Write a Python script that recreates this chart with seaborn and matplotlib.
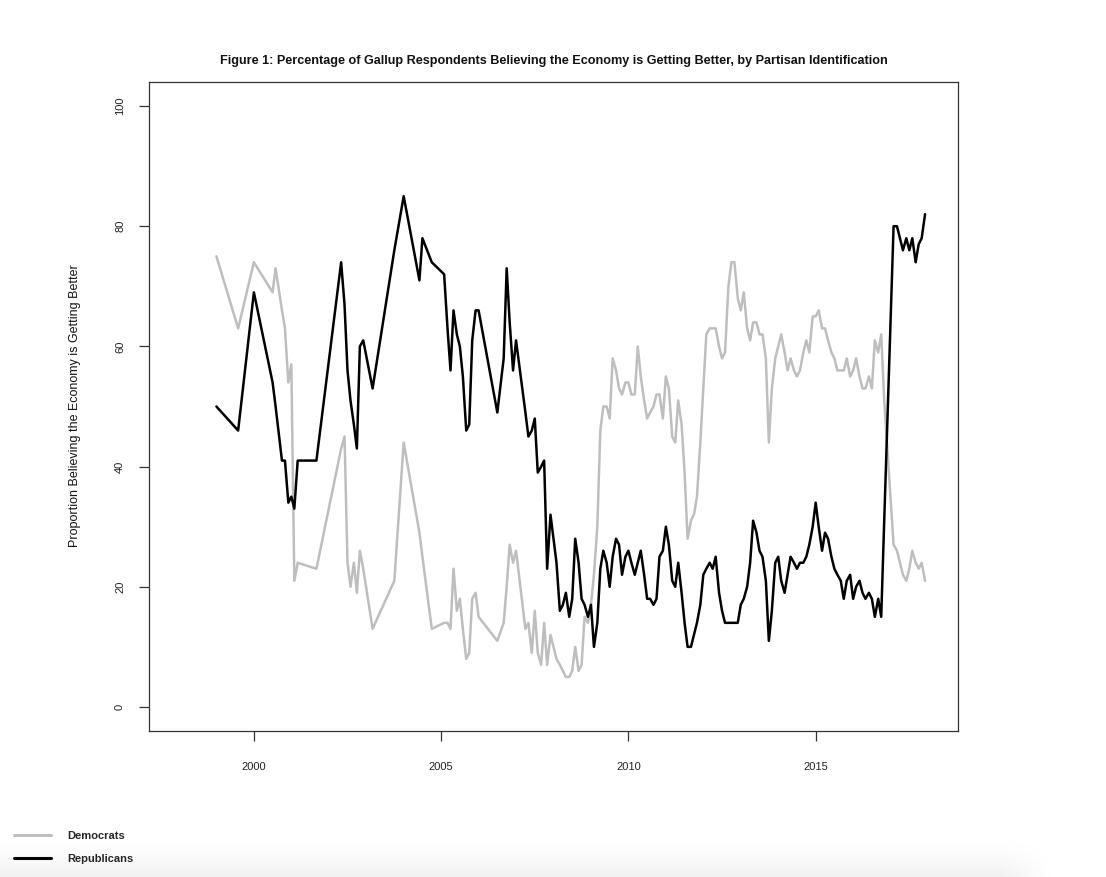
import numpy as np
import pandas as pd
import matplotlib
matplotlib.use("Agg")
import matplotlib.pyplot as plt
from matplotlib.lines import Line2D
import seaborn as sns

# ---------------- data ----------------
dates = [
    1999.0, 1999.58, 2000.0, 2000.5, 2000.58, 2000.75, 2000.83, 2000.92,
    2001.0, 2001.08, 2001.17, 2001.67, 2002.33, 2002.42, 2002.5, 2002.58,
    2002.67, 2002.75, 2002.83, 2002.92, 2003.17, 2003.75, 2004.0, 2004.42,
    2004.5, 2004.75, 2005.08, 2005.17, 2005.25, 2005.33, 2005.42, 2005.5,
    2005.58, 2005.67, 2005.75, 2005.83, 2005.92, 2006.0, 2006.5, 2006.67,
    2006.75, 2006.83, 2006.92, 2007.0, 2007.25, 2007.33, 2007.42, 2007.5,
    2007.58, 2007.67, 2007.75, 2007.83, 2007.92, 2008.08, 2008.17, 2008.25,
    2008.33, 2008.42, 2008.5, 2008.58, 2008.67, 2008.75, 2008.83, 2008.92,
    2009.0, 2009.08, 2009.17, 2009.25, 2009.33, 2009.42, 2009.5, 2009.58,
    2009.67, 2009.75, 2009.83, 2009.92, 2010.0, 2010.08, 2010.17, 2010.25,
    2010.33, 2010.42, 2010.5, 2010.58, 2010.67, 2010.75, 2010.83, 2010.92,
    2011.0, 2011.08, 2011.17, 2011.25, 2011.33, 2011.42, 2011.5, 2011.58,
    2011.67, 2011.75, 2011.83, 2011.92, 2012.0, 2012.08, 2012.17, 2012.25,
    2012.33, 2012.42, 2012.5, 2012.58, 2012.67, 2012.75, 2012.83, 2012.92,
    2013.0, 2013.08, 2013.17, 2013.25, 2013.33, 2013.42, 2013.5, 2013.58,
    2013.67, 2013.75, 2013.83, 2013.92, 2014.0, 2014.08, 2014.17, 2014.25,
    2014.33, 2014.42, 2014.5, 2014.58, 2014.67, 2014.75, 2014.83, 2014.92,
    2015.0, 2015.08, 2015.17, 2015.25, 2015.33, 2015.42, 2015.5, 2015.58,
    2015.67, 2015.75, 2015.83, 2015.92, 2016.0, 2016.08, 2016.17, 2016.25,
    2016.33, 2016.42, 2016.5, 2016.58, 2016.67, 2016.75, 2016.83, 2017.08,
    2017.17, 2017.25, 2017.33, 2017.42, 2017.5, 2017.58, 2017.67, 2017.75,
    2017.83, 2017.92,
]

democrats = [
    75, 63, 74, 69, 73, 66, 63, 54,
    57, 21, 24, 23, 43, 45, 24, 20,
    24, 19, 26, 23, 13, 21, 44, 29,
    25, 13, 14, 14, 13, 23, 16, 18,
    13, 8, 9, 18, 19, 15, 11, 14,
    20, 27, 24, 26, 13, 14, 9, 16,
    9, 7, 14, 7, 12, 8, 7, 6,
    5, 5, 6, 10, 6, 7, 15, 14,
    17, 22, 30, 46, 50, 50, 48, 58,
    56, 53, 52, 54, 54, 52, 52, 60,
    55, 51, 48, 49, 50, 52, 52, 48,
    55, 53, 45, 44, 51, 47, 39, 28,
    31, 32, 35, 44, 53, 62, 63, 63,
    63, 60, 58, 59, 70, 74, 74, 68,
    66, 69, 63, 61, 64, 64, 62, 62,
    58, 44, 53, 58, 60, 62, 59, 56,
    58, 56, 55, 56, 59, 61, 59, 65,
    65, 66, 63, 63, 61, 59, 58, 56,
    56, 56, 58, 55, 56, 58, 55, 53,
    53, 55, 53, 61, 59, 62, 51, 27,
    26, 24, 22, 21, 23, 26, 24, 23,
    24, 21,
]

republicans = [
    50, 46, 69, 54, 50, 41, 41, 34,
    35, 33, 41, 41, 74, 67, 56, 51,
    47, 43, 60, 61, 53, 76, 85, 71,
    78, 74, 72, 63, 56, 66, 62, 60,
    55, 46, 47, 61, 66, 66, 49, 58,
    73, 64, 56, 61, 49, 45, 46, 48,
    39, 40, 41, 23, 32, 24, 16, 17,
    19, 15, 18, 28, 24, 18, 17, 15,
    17, 10, 14, 23, 26, 24, 20, 25,
    28, 27, 22, 25, 26, 24, 22, 24,
    26, 22, 18, 18, 17, 18, 25, 26,
    30, 27, 21, 20, 24, 19, 14, 10,
    10, 12, 14, 17, 22, 23, 24, 23,
    25, 19, 16, 14, 14, 14, 14, 14,
    17, 18, 20, 24, 31, 29, 26, 25,
    21, 11, 16, 24, 25, 21, 19, 22,
    25, 24, 23, 24, 24, 25, 27, 30,
    34, 30, 26, 29, 28, 25, 23, 22,
    21, 18, 21, 22, 18, 20, 21, 19,
    18, 19, 18, 15, 18, 15, 31, 80,
    80, 78, 76, 78, 76, 78, 74, 77,
    78, 82,
]

series_names = ["Democrats", "Republicans"]
series_colors = ["#BEBEBE", "#000000"]
x_ticks = [2000, 2005, 2010, 2015]
x_tick_labels = ["2000", "2005", "2010", "2015"]
y_ticks = [0, 20, 40, 60, 80, 100]
y_tick_labels = ["0", "20", "40", "60", "80", "100"]
title_text = ("Figure 1: Percentage of Gallup Respondents Believing the Economy "
              "is Getting Better, by Partisan Identification")
ylabel_text = "Proportion Believing the Economy is Getting Better"

# ---------------- figure ----------------
sns.set_theme(style="white")
plt.rcParams["font.family"] = ["Liberation Sans", "DejaVu Sans"]

n = len(dates)
df = pd.DataFrame({
    "date": dates * 2,
    "value": democrats + republicans,
    "party": [series_names[0]] * n + [series_names[1]] * n,
})

W, H = 1106, 877
fig = plt.figure(figsize=(W / 100, H / 100), dpi=100)
fig.patch.set_facecolor("white")

# subtle bottom shadow of the original screenshot
grad_ax = fig.add_axes([0, 0, 1, 50 / H], zorder=-5)
gy = np.linspace(0, 1, 50)[:, None]
gx = np.linspace(0, 1, 300)[None, :]
fade_x = np.clip((0.955 - gx) / 0.05, 0, 1)
shade = 1 - 0.06 * (1 - gy) ** 2.0 * fade_x
grad_ax.imshow(shade, cmap="gray", vmin=0, vmax=1, aspect="auto",
               extent=[0, 1, 0, 1], origin="lower")
grad_ax.axis("off")

ax = fig.add_axes([149 / W, 1 - 731 / H, (958 - 149) / W, (731 - 82) / H])
ax.set_facecolor("white")

sns.lineplot(data=df, x="date", y="value", hue="party", hue_order=series_names,
             palette=dict(zip(series_names, series_colors)), estimator=None,
             linewidth=1.8, legend=False, ax=ax)

ax.set_xlim(1997.2, 2018.8)
ax.set_ylim(-4, 104)
ax.set_xticks(x_ticks)
ax.set_xticklabels(x_tick_labels)
ax.set_yticks(y_ticks)
ax.set_yticklabels(y_tick_labels, rotation=90, va="center")
ax.set_xlabel("")
ax.set_ylabel("")

for sp in ax.spines.values():
    sp.set_visible(True)
    sp.set_color("#333333")
    sp.set_linewidth(0.9)

ax.tick_params(axis="both", which="major", direction="out", length=7.2,
               width=0.9, color="#333333", labelsize=8, labelcolor="#222222")
ax.tick_params(axis="x", pad=15)
ax.tick_params(axis="y", pad=10)
ax.tick_params(left=True, bottom=True)

fig.text(553.5 / W, 1 - 61 / H, title_text, ha="center", va="center",
         fontsize=9.05, fontweight="bold", color="#111111")
fig.text(75 / W, 1 - 406 / H, ylabel_text, ha="center", va="center",
         rotation=90, fontsize=9.0, color="#111111")

handles = [Line2D([0], [0], color=c, lw=2.2) for c in series_colors]
fig.legend(handles, series_names, loc="center left",
           bbox_to_anchor=(14 / W, 1 - 847.5 / H), frameon=False,
           prop={"weight": "bold", "size": 8}, handlelength=3.3,
           handletextpad=1.45, labelspacing=1.22, borderpad=0,
           borderaxespad=0)

fig.savefig("out.png", dpi=100, facecolor="white")
